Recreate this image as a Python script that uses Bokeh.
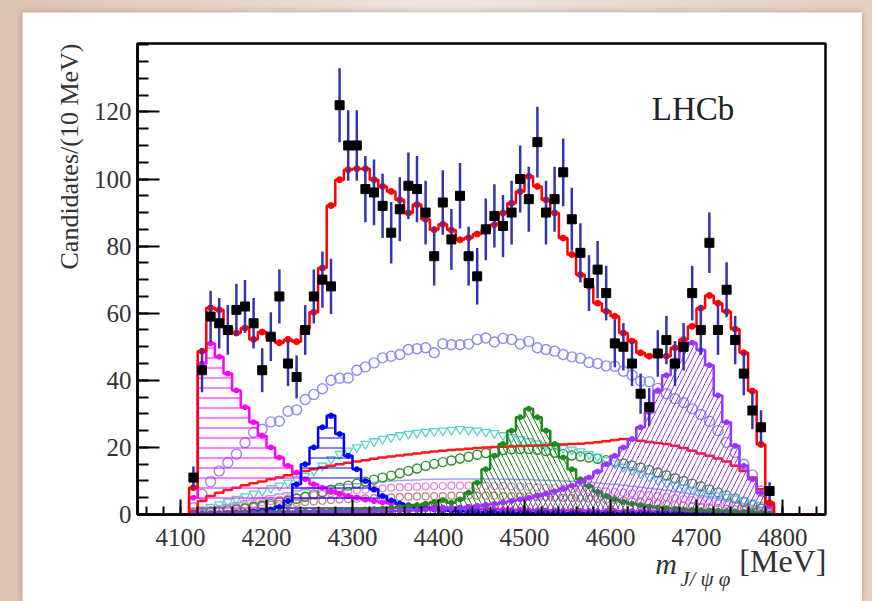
import numpy as np
from bokeh.plotting import figure
from bokeh.models import Range1d, FixedTicker, Label, Title
from bokeh.layouts import column
from bokeh.embed import file_html
from bokeh.resources import INLINE

# ---------------- data (10 MeV bins, 4110-4790 MeV) ----------------
bin_first_edge = 4110
bin_width = 10

counts = [11, 43, 59, 57, 55, 61, 62, 57, 43, 53,
          65, 45, 41, 55, 65, 70, 68, 122, 110, 110,
          97, 96, 92, 84, 91, 98, 97, 90, 77, 93,
          82, 95, 77, 71, 85, 89, 86, 90, 100, 94,
          111, 90, 94, 102, 88, 78, 69, 73, 66, 51,
          50, 45, 36, 32, 48, 52, 45, 50, 66, 55,
          81, 55, 67, 52, 42, 31, 26, 7]

total_fit = [8, 48.7, 61.6, 61, 55.6, 54.1, 55.6, 52.2, 54.4, 52.5,
             51.2, 52.2, 51.5, 55.4, 60.3, 73.5, 92.1, 99.8, 102.8, 103.1,
             103.1, 99.8, 97.8, 96.3, 93.8, 89.9, 92.4, 88, 84.9, 86.5,
             84.8, 81.9, 82.5, 83.6, 84.9, 86.4, 89.9, 92.8, 96.3, 100.8,
             97.8, 93.8, 89.9, 82.4, 77.5, 71.5, 68, 63, 60.6, 59.1,
             54.1, 51.7, 48.2, 47.2, 47.6, 47.2, 49.7, 52.2, 56.1, 61.5,
             65.3, 63, 60.5, 55.3, 48.2, 36.8, 20.9, 3.5]

x4140 = [5, 45, 51, 47, 42, 37, 32, 27.5, 23.5, 20,
         17, 14.5, 12.5, 10.5, 9, 8, 7, 6.2, 5.5, 5,
         4.5, 4, 3.6, 3.3, 3, 2.8, 2.6, 2.4, 2.2, 2.1,
         2, 1.9, 1.8, 1.7, 1.6, 1.5, 1.5, 1.4, 1.4, 1.3,
         1.3, 1.2, 1.2, 1.2, 1.1, 1.1, 1.1, 1, 1, 1,
         1, 1, 0.9, 0.9, 0.9, 0.9, 0.9, 0.8, 0.8, 0.8,
         0.8, 0.7, 0.7, 0.6, 0.6, 0.5, 0.4, 0.2]

x4274 = [0.2, 0.3, 0.3, 0.4, 0.5, 0.6, 0.7, 0.9, 1.1, 1.5,
         2.2, 4, 9, 15, 20, 26, 29.5, 24, 17.5, 13.5,
         10, 7.5, 5.5, 4.2, 3.3, 2.6, 2.1, 1.8, 1.5, 1.3,
         1.1, 1, 0.9, 0.8, 0.7, 0.7, 0.6, 0.6, 0.5, 0.5,
         0.5, 0.5, 0.5, 0.4, 0.4, 0.4, 0.4, 0.4, 0.4, 0.3,
         0.3, 0.3, 0.3, 0.3, 0.3, 0.3, 0.3, 0.3, 0.2, 0.2,
         0.2, 0.2, 0.2, 0.2, 0.2, 0.1, 0.1, 0.1]

x4500 = [0.3, 0.3, 0.4, 0.4, 0.5, 0.5, 0.6, 0.6, 0.7, 0.7,
         0.8, 0.8, 0.9, 1, 1, 1.1, 1.2, 1.2, 1.3, 1.4,
         1.5, 1.6, 1.8, 2, 2.2, 2.5, 2.8, 3.2, 3.7, 4.3,
         3.5, 4.5, 6.5, 9.5, 13.5, 17.5, 21, 25, 29, 31.5,
         29, 25, 21, 17, 13.5, 10.5, 8.5, 6.8, 5.5, 4.5,
         3.8, 3.2, 2.8, 2.4, 2.1, 1.9, 1.7, 1.5, 1.4, 1.3,
         1.2, 1.1, 1, 0.9, 0.8, 0.6, 0.5, 0.2]

x4700 = [0.2, 0.2, 0.2, 0.3, 0.3, 0.3, 0.3, 0.4, 0.4, 0.4,
         0.4, 0.5, 0.5, 0.5, 0.6, 0.6, 0.6, 0.7, 0.7, 0.8,
         0.8, 0.9, 0.9, 1, 1.1, 1.2, 1.3, 1.4, 1.5, 1.7,
         1.9, 2.1, 2.3, 2.6, 2.9, 3.2, 3.6, 4, 4.5, 5,
         5.6, 6.2, 6.9, 7.7, 8.6, 9.7, 11, 12.8, 15, 17.5,
         20, 22.5, 26, 30.5, 37, 41.5, 46, 50, 51.2, 49,
         44.5, 35.5, 27.5, 20.5, 14.5, 10.5, 6.5, 2.5]

nonres = [1, 4, 5.5, 6.5, 7.3, 8, 8.7, 9.3, 9.8, 10.5,
          11, 11.7, 12.3, 13, 13.5, 14, 14.5, 15, 15.4, 15.8,
          16.2, 16.6, 17, 17.3, 17.6, 17.9, 18.2, 18.5, 18.8, 19,
          19.2, 19.4, 19.6, 19.8, 20, 20.1, 20.2, 20.3, 20.4, 20.5,
          20.6, 20.7, 20.8, 20.9, 21, 21.1, 21.3, 21.5, 21.8, 22.2,
          22.5, 22.3, 22, 21.6, 21.3, 21, 20.5, 19.8, 19, 18.2,
          17.5, 16.7, 15.8, 14.5, 13, 11, 7.5, 3]

x4140_jp1 = [2, 6, 9.8, 13, 15.5, 18, 21.4, 24.5, 25.4, 27.6,
             27.8, 30.8, 31.2, 34.3, 35.8, 37.5, 40, 40.6, 40.7, 43,
             44, 45.2, 46.7, 47.2, 47.7, 49.2, 49.4, 49.7, 48.2, 50.9,
             50.6, 50.6, 50.8, 52.2, 52.6, 51.4, 52.5, 52.2, 50.8, 51.6,
             49.7, 49.2, 48.7, 47.7, 47, 46.6, 45.3, 45, 44.3, 44.2,
             42.7, 41.6, 39.8, 39.6, 37.6, 36, 34.5, 33.3, 31.5, 29.8,
             27.8, 25, 21.5, 18.5, 15, 11.8, 7, 2]

kstar_a = [0.5, 1.5, 2.2, 3, 3.8, 4.6, 5.4, 6.2, 7, 7.8,
           8.6, 9.5, 10.5, 11.5, 13, 14.5, 16.5, 18, 19, 20,
           21, 21.8, 22.5, 23, 23.6, 24, 24.3, 24.6, 24.8, 25,
           25.2, 25.4, 25.2, 25, 24.6, 24.2, 23.6, 23, 22.4, 21.8,
           21.2, 20.6, 20.2, 19.8, 19.3, 18.8, 18, 17.2, 16.2, 15.2,
           14.2, 13.2, 12.2, 11.2, 10.2, 9.4, 8.6, 8, 7.4, 6.8,
           6.2, 5.7, 5.2, 4.7, 4.2, 3.6, 2.8, 1.2]

kstar_b = [0.3, 0.6, 0.8, 1, 1.3, 1.6, 1.9, 2.3, 2.7, 3.1,
           3.6, 4.1, 4.7, 5.3, 6, 6.7, 7.4, 8, 8.6, 9.2,
           9.8, 10.4, 11, 11.6, 12.3, 13, 13.7, 14.5, 15.1, 15.6,
           16.1, 16.7, 17.2, 17.8, 18.3, 18.8, 19.2, 19.4, 19.5, 19.5,
           19.3, 18.9, 18.4, 18, 17.6, 17.3, 17, 16.6, 16.2, 15.7,
           15.2, 14.6, 14, 13.3, 12.5, 11.7, 10.8, 10, 9.2, 8.4,
           7.5, 6.6, 5.7, 4.8, 3.8, 2.8, 1.8, 0.8]

kstar_c = [0.3, 0.8, 1.2, 1.6, 2, 2.4, 2.8, 3.2, 3.6, 4,
           4.4, 4.8, 5.2, 5.5, 5.8, 6.1, 6.4, 6.7, 7, 7.2,
           7.4, 7.6, 7.8, 8, 8.1, 8.2, 8.3, 8.4, 8.5, 8.5,
           8.6, 8.6, 8.6, 8.6, 8.6, 8.5, 8.5, 8.4, 8.3, 8.2,
           8.1, 8, 7.9, 7.8, 7.6, 7.5, 7.3, 7.1, 6.9, 6.7,
           6.5, 6.3, 6, 5.8, 5.5, 5.2, 4.9, 4.6, 4.3, 4,
           3.7, 3.4, 3, 2.6, 2.2, 1.7, 1.2, 0.5]

kstar_d = [0.2, 0.5, 0.8, 1.1, 1.4, 1.7, 2, 2.3, 2.6, 2.9,
           3.1, 3.3, 3.5, 3.7, 3.9, 4.1, 4.3, 4.5, 4.6, 4.7,
           4.8, 4.9, 5, 5.1, 5.2, 5.3, 5.4, 5.4, 5.5, 5.5,
           5.6, 5.6, 5.6, 5.6, 5.6, 5.6, 5.5, 5.5, 5.4, 5.4,
           5.3, 5.2, 5.1, 5, 4.9, 4.8, 4.7, 4.6, 4.5, 4.3,
           4.1, 3.9, 3.7, 3.5, 3.3, 3.1, 2.9, 2.7, 2.5, 2.3,
           2.1, 1.9, 1.7, 1.5, 1.3, 1, 0.7, 0.3]

kstar_e = [0.5, 1.2, 1.8, 2.4, 3, 3.6, 4.1, 4.6, 5.1, 5.6,
           6.1, 6.5, 7, 7.4, 7.8, 8.1, 8.4, 8.7, 9, 9.2,
           9.4, 9.6, 9.8, 10, 10.1, 10.2, 10.3, 10.4, 10.5, 10.5,
           10.6, 10.6, 10.6, 10.6, 10.6, 10.6, 10.5, 10.5, 10.4, 10.4,
           10.3, 10.2, 10.1, 10, 9.9, 9.8, 9.6, 9.4, 9.2, 9,
           8.7, 8.4, 8.1, 7.8, 7.5, 7.2, 6.8, 6.4, 6, 5.6,
           5.2, 4.8, 4.3, 3.8, 3.3, 2.7, 2, 0.8]

x_major = [4100, 4200, 4300, 4400, 4500, 4600, 4700, 4800]
y_major = [0, 20, 40, 60, 80, 100, 120]

# ---------------- derived geometry ----------------
nb = len(counts)
centers = bin_first_edge + bin_width * (np.arange(nb) + 0.5)
edges = bin_first_edge + bin_width * np.arange(nb + 1)
X0, X1 = 4050, 4850


def step_xy(vals):
    v = np.asarray(vals, dtype=float)
    xs = np.concatenate([[X0], np.repeat(edges, 2), [X1]])
    ys = np.concatenate([[0, 0], np.repeat(v, 2), [0, 0]])
    return xs, ys


serif = "Liberation Serif"
ink = "#333333"

p = figure(width=840, height=589, output_backend="svg", toolbar_location=None,
           x_range=Range1d(X0, X1), y_range=Range1d(0, 140.4),
           min_border_left=115, min_border_right=37,
           min_border_top=31, min_border_bottom=87)
p.margin = (12, 10, 0, 22)
p.background_fill_color = "white"
p.border_fill_color = "white"
p.outline_line_color = "black"
p.outline_line_width = 2.5
p.xgrid.visible = False
p.ygrid.visible = False

p.axis.axis_line_width = 2.5
p.axis.major_tick_line_width = 2
p.axis.minor_tick_line_width = 2
p.axis.major_tick_out = 0
p.axis.minor_tick_out = 0
p.axis.major_label_text_font = serif
p.axis.major_label_text_font_size = "25px"
p.axis.major_label_text_color = ink

p.xaxis.ticker = FixedTicker(ticks=x_major, minor_ticks=list(range(4060, 4850, 20)))
p.yaxis.ticker = FixedTicker(ticks=y_major, minor_ticks=list(range(0, 141, 5)))
p.xaxis.major_tick_in = 15
p.xaxis.minor_tick_in = 8
p.yaxis.major_tick_in = 22
p.yaxis.minor_tick_in = 11
p.xaxis.major_label_standoff = 14
p.yaxis.major_label_standoff = 6

# background-like components (bottom band)
xs, ys = step_xy(kstar_e)
p.line(xs, ys, line_color="#a0a0ff", line_width=1.5)
p.scatter(centers, kstar_d, marker="circle", size=7, fill_color=None,
          line_color="#c07a7a", line_width=1.2)
p.scatter(centers, kstar_c, marker="circle", size=7, fill_color=None,
          line_color="#e27ee2", line_width=1.2)
p.scatter(centers, kstar_b, marker="circle", size=9, fill_color=None,
          line_color="#2f8f2f", line_width=1.4)
p.scatter(centers, kstar_a, marker="inverted_triangle", size=9, fill_color=None,
          line_color="#5cd0d0", line_width=1.3)
p.scatter(centers, x4140_jp1, marker="circle", size=10, fill_color=None,
          line_color="#8c8cf0", line_width=1.4)

# non-resonant (smooth red step)
xs, ys = step_xy(nonres)
p.line(xs, ys, line_color="#ff1a1a", line_width=2.5)

# hatched resonances
hatched = [
    (x4140, "#ff00ff", "-"),
    (x4274, "#0000ff", "-"),
    (x4500, "#1e8a1e", "\\"),
    (x4700, "#9933ff", "/"),
]
for vals, col, pat in hatched:
    p.quad(left=edges[:-1], right=edges[1:], bottom=0, top=vals,
           fill_color=None, line_color=None,
           hatch_pattern=pat, hatch_color=col, hatch_scale=10, hatch_weight=1)
    xs, ys = step_xy(vals)
    p.line(xs, ys, line_color=col, line_width=2.5)
    p.scatter(centers, vals, marker="circle", size=5, color=col)

# total fit
xs, ys = step_xy(total_fit)
p.line(xs, ys, line_color="#ff0000", line_width=2.5)
p.scatter(centers, total_fit, marker="circle", size=6, color="#ff0000")

# data with Poisson errors
cnt = np.asarray(counts, dtype=float)
err = np.sqrt(cnt)
p.segment(x0=centers, y0=cnt - err, x1=centers, y1=cnt + err,
          line_color="#3434b0", line_width=2.5)
p.scatter(centers, cnt, marker="square", size=9, color="black")

# texts
p.add_layout(Label(x=4648, y=120.8, text="LHCb", text_font=serif,
                   text_font_size="33px", text_color="#222222",
                   text_baseline="middle"))

p.add_layout(Title(text="Candidates/(10 MeV)", align="right", text_font=serif,
                   text_font_style="normal", text_font_size="26px",
                   text_color=ink, standoff=13), "left")

# x-axis title pieces (each placed in a side panel with spare room)
p.add_layout(Label(x=4652, y=-14.6, text="m", text_font=serif,
                   text_font_style="italic", text_font_size="30px",
                   text_color=ink, text_baseline="middle"), "left")
p.add_layout(Label(x=4681, y=-19.2, text="J/ ψ φ", text_font=serif,
                   text_font_style="italic", text_font_size="21px",
                   text_color=ink, text_baseline="middle"), "above")
p.add_layout(Label(x=4851, y=-14.0, text="[MeV]", text_font=serif,
                   text_font_size="32px", text_color=ink,
                   text_align="right", text_baseline="middle"), "below")

p.styles = {"box-shadow": "0 0 6px rgba(90,60,40,0.35)"}

page = column(p, width=872, height=601,
              styles={"background": "linear-gradient(90deg, #dcc3b2 0%, #efe4dc 50%, #e2cfc1 100%)"})

open("out.html", "w").write(file_html(page, INLINE))
